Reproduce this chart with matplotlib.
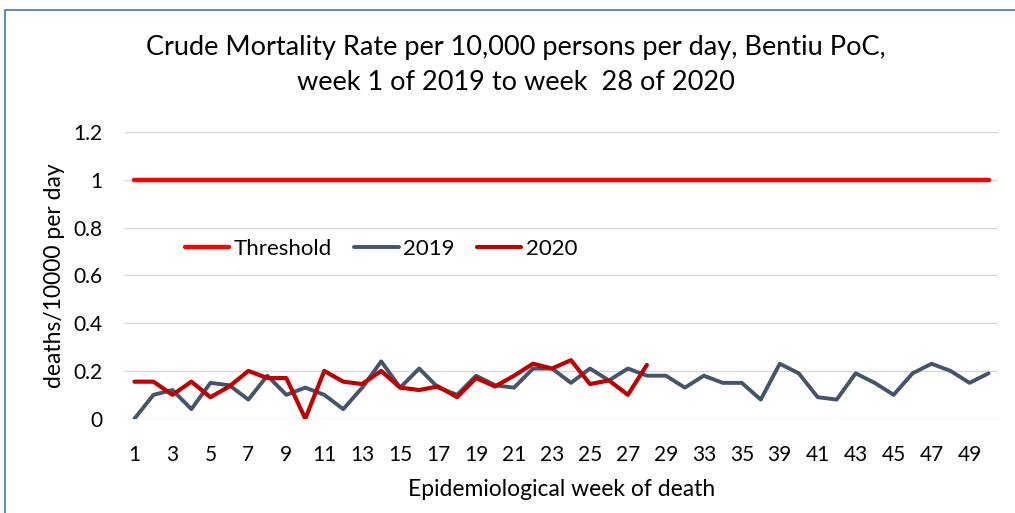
import matplotlib
matplotlib.use("Agg")
import matplotlib.pyplot as plt
from matplotlib.patches import Rectangle

plt.rcParams['font.family'] = ['Lato', 'DejaVu Sans']

weeks = [str(w) for w in range(1, 30)] + ['31', '33', '34', '35', '37'] + [str(w) for w in range(39, 51)]
threshold = [1.0] * len(weeks)
rate_2019 = [0.00, 0.10, 0.12, 0.04, 0.15, 0.14, 0.08, 0.18, 0.10, 0.13,
             0.10, 0.04, 0.13, 0.24, 0.13, 0.21, 0.13, 0.10, 0.18, 0.14,
             0.13, 0.21, 0.21, 0.15, 0.21, 0.16, 0.21, 0.18, 0.18, 0.13,
             0.18, 0.15, 0.15, 0.08, 0.23, 0.19, 0.09, 0.08, 0.19, 0.15,
             0.10, 0.19, 0.23, 0.20, 0.15, 0.19]
rate_2020 = [0.155, 0.155, 0.10, 0.155, 0.09, 0.135, 0.20, 0.17, 0.17, 0.00,
             0.20, 0.155, 0.145, 0.20, 0.13, 0.12, 0.135, 0.09, 0.17, 0.135,
             0.18, 0.23, 0.21, 0.245, 0.145, 0.16, 0.10, 0.225]

fig = plt.figure(figsize=(10.15, 5.13), dpi=100)
fig.patches.append(Rectangle((5/1015, -0.1), 1.2, (513-10)/513 + 0.1, transform=fig.transFigure,
                             fill=False, edgecolor='#4472C4', linewidth=1.2))
ax = fig.add_axes([125/1015, 1 - 418.7/513, (998-125)/1015, (418.7-132)/513])

x = list(range(1, len(weeks) + 1))
ax.plot(x, threshold, color='#FF0000', linewidth=3.2, solid_capstyle='round', label='Threshold', zorder=3)
ax.plot(x, rate_2019, color='#44546A', linewidth=2.8, solid_capstyle='round', label='2019', zorder=3)
ax.plot(x[:len(rate_2020)], rate_2020, color='#C00000', linewidth=3.0, solid_capstyle='round', label='2020', zorder=4)

ax.set_xlim(0.5, len(weeks) + 0.5)
ax.set_ylim(0, 1.2)
ax.set_yticks([0, 0.2, 0.4, 0.6, 0.8, 1.0, 1.2])
ax.set_yticklabels(['0', '0.2', '0.4', '0.6', '0.8', '1', '1.2'])
ax.set_xticks(x[::2])
ax.set_xticklabels(weeks[::2])
ax.tick_params(axis='both', length=0, labelsize=15, colors='#000000')
ax.tick_params(axis='x', pad=19)
ax.tick_params(axis='y', pad=16)
ax.grid(axis='y', color='#D9D9D9', linewidth=1.0)
ax.set_axisbelow(True)
for s in ax.spines.values():
    s.set_visible(False)

ax.set_xlabel('Epidemiological week of death', fontsize=16.5, labelpad=10)
ax.set_ylabel('deaths/10000 per day', fontsize=16.5, labelpad=6)

fig.text(0.508, 1 - 48/513, 'Crude Mortality Rate per 10,000 persons per day, Bentiu PoC,',
         ha='center', va='center', fontsize=19.5)
fig.text(0.508, 1 - 82/513, 'week 1 of 2019 to week  28 of 2020',
         ha='center', va='center', fontsize=19.5)

leg = ax.legend(loc='center left', bbox_to_anchor=(60/873, 1 - (249-132)/286.7), ncol=3, frameon=False,
                fontsize=16, handlelength=2.0, handletextpad=0.2, columnspacing=1.0,
                borderaxespad=0, borderpad=0)

fig.savefig('out.png', dpi=100)
